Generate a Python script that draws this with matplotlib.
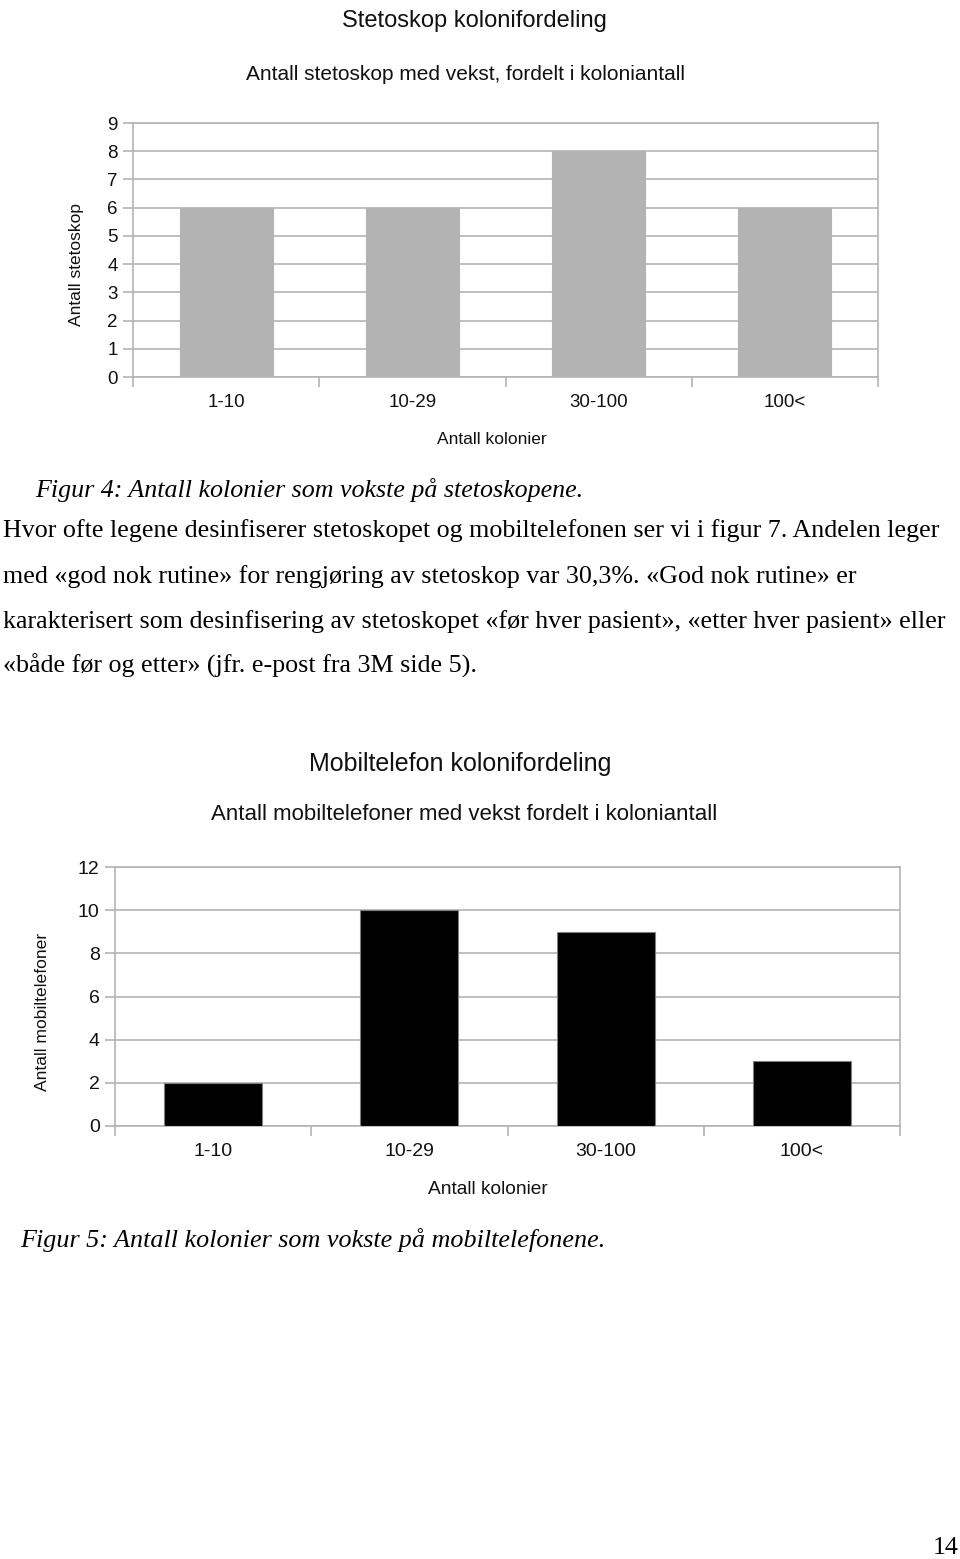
import matplotlib
matplotlib.use("Agg")
import matplotlib.pyplot as plt
import numpy as np

W, H = 960, 1559

categories = ["1-10", "10-29", "30-100", "100<"]
steto_values = [6, 6, 8, 6]
mobil_values = [2, 10, 9, 3]
steto_yticks = list(range(0, 10))
mobil_yticks = [0, 2, 4, 6, 8, 10, 12]

body_lines = [
    "Hvor ofte legene desinfiserer stetoskopet og mobiltelefonen ser vi i figur 7. Andelen leger",
    "med «god nok rutine» for rengjøring av stetoskop var 30,3%. «God nok rutine» er",
    "karakterisert som desinfisering av stetoskopet «før hver pasient», «etter hver pasient» eller",
    "«både før og etter» (jfr. e-post fra 3M side 5).",
]

fig = plt.figure(figsize=(W / 100, H / 100), dpi=100)
fig.patch.set_facecolor("white")

SANS = ["Liberation Sans", "DejaVu Sans"]
SERIF = ["Liberation Serif", "DejaVu Serif"]
GRID = "#b4b4b4"


def px_ax(l, t, r, b):
    return fig.add_axes([l / W, 1 - b / H, (r - l) / W, (b - t) / H])


def style_bar_axes(ax, values, yticks, color, edge, fs):
    x = np.arange(len(categories))
    ax.bar(x, values, width=0.5, color=color, edgecolor=edge, linewidth=0.8, zorder=3)
    ax.set_xlim(-0.5, len(categories) - 0.5)
    ax.set_ylim(yticks[0], yticks[-1])
    ax.set_yticks(yticks)
    ax.set_yticklabels([str(v) for v in yticks], fontsize=fs, family=SANS, color="#111111")
    ax.yaxis.grid(True, color=GRID, linewidth=1.2, zorder=0)
    ax.set_axisbelow(True)
    ax.set_xticks(np.arange(-0.5, len(categories)), minor=False)
    ax.set_xticklabels([])
    ax.set_xticks(x, minor=True)
    ax.set_xticklabels(categories, minor=True, fontsize=fs, family=SANS, color="#111111")
    ax.tick_params(axis="x", which="major", length=7, color=GRID, width=1.2)
    ax.tick_params(axis="x", which="minor", length=0, pad=12)
    ax.tick_params(axis="y", length=7, color=GRID, width=1.2, pad=4)
    for s in ax.spines.values():
        s.set_color(GRID)
        s.set_linewidth(1.2)


# Chart 1
ax1 = px_ax(133, 123, 878, 377)
style_bar_axes(ax1, steto_values, steto_yticks, "#b3b3b3", "#b3b3b3", 13.5)
fig.text(474 / W, 1 - 21 / H, "Stetoskop kolonifordeling", ha="center", va="center",
         fontsize=17, family=SANS, color="#111111")
fig.text(466 / W, 1 - 75 / H, "Antall stetoskop med vekst, fordelt i koloniantall", ha="center",
         va="center", fontsize=15, family=SANS, color="#111111")
fig.text(492 / W, 1 - 440 / H, "Antall kolonier", ha="center", va="center",
         fontsize=12.5, family=SANS, color="#111111")
fig.text(76 / W, 1 - 265 / H, "Antall stetoskop", ha="center", va="center", rotation=90,
         fontsize=12.5, family=SANS, color="#111111")

# Caption 1
fig.text(35 / W, 1 - 490 / H, "Figur 4: Antall kolonier som vokste på stetoskopene.", ha="left",
         va="center", fontsize=18.7, family=SERIF, style="italic", color="black")

# Body text
ys = [531, 577, 622, 666]
for yv, line in zip(ys, body_lines):
    fig.text(3 / W, 1 - yv / H, line, ha="left", va="center", fontsize=18.7,
             family=SERIF, color="black")

# Chart 2
ax2 = px_ax(115, 867, 900, 1126)
style_bar_axes(ax2, mobil_values, mobil_yticks, "black", "#808080", 14)
fig.text(460 / W, 1 - 764 / H, "Mobiltelefon kolonifordeling", ha="center", va="center",
         fontsize=18, family=SANS, color="#111111")
fig.text(464 / W, 1 - 815 / H, "Antall mobiltelefoner med vekst fordelt i koloniantall", ha="center",
         va="center", fontsize=16, family=SANS, color="#111111")
fig.text(488 / W, 1 - 1190 / H, "Antall kolonier", ha="center", va="center",
         fontsize=13.8, family=SANS, color="#111111")
fig.text(43 / W, 1 - 1012 / H, "Antall mobiltelefoner", ha="center", va="center", rotation=90,
         fontsize=12.6, family=SANS, color="#111111")

fig.text(20 / W, 1 - 1240 / H, "Figur 5: Antall kolonier som vokste på mobiltelefonene.", ha="left",
         va="center", fontsize=18.8, family=SERIF, style="italic", color="black")

fig.text(946 / W, 1 - 1548 / H, "14", ha="center", va="center", fontsize=18.7,
         family=SERIF, color="black")

fig.savefig("out.png", dpi=100, facecolor="white")
